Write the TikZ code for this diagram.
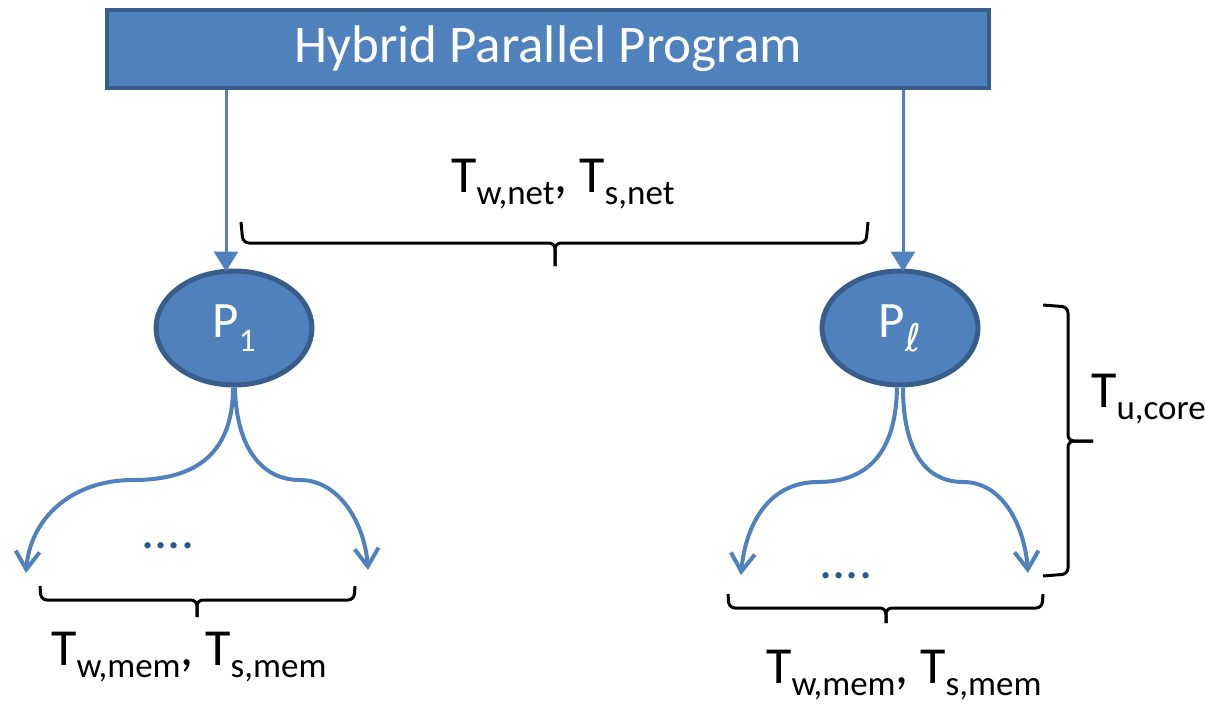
\documentclass[tikz,border=0pt]{standalone}
\usepackage{fontspec}
\setmainfont{Carlito}
\newfontfamily\dejavu{DejaVu Sans}
\usetikzlibrary{arrows.meta,shapes.geometric}
\definecolor{fillblue}{HTML}{4F81BD}
\definecolor{edgeblue}{HTML}{385D8A}
\definecolor{dotblue}{HTML}{2A5592}
\newcommand\sbx[1]{\raisebox{-12pt}{\fontsize{35}{38}\selectfont #1}}
\newcommand\psb[1]{\raisebox{-14pt}{\fontsize{33}{36}\selectfont #1}}
\begin{document}
\begin{tikzpicture}[x=1pt,y=-1pt,
  box/.style={rectangle,fill=fillblue,draw=edgeblue,line width=4pt,minimum width=882pt,minimum height=78pt,inner sep=0pt,text=white,font=\fontsize{53}{60}\selectfont},
  proc/.style={ellipse,fill=fillblue,draw=edgeblue,line width=5pt,minimum width=156pt,minimum height=114pt,inner sep=0pt,text=white,font=\fontsize{51}{56}\selectfont},
  lbl/.style={inner sep=0pt,anchor=base west,font=\fontsize{52}{58}\selectfont},
  dotsl/.style={inner sep=0pt,anchor=base,text=dotblue,font=\fontsize{52}{58}\selectfont},
  varr/.style={draw=fillblue,line width=3pt,-{Triangle[length=20pt,width=24pt]}},
  carr/.style={draw=fillblue,line width=4pt,-{Straight Barb[length=18pt,width=24pt]}},
  brace/.style={draw=black,line width=3pt,rounded corners=6pt}]
\useasboundingbox (0,0) rectangle (1205,704);
\node[box] (hpp) at (548,49) {Hybrid Parallel Program};
\node[proc] (p1) at (234,328) {P\psb{1}};
\node[proc] (p2) at (900,328) {P\psb{\dejavu\fontsize{38}{40}\selectfont ℓ}};
% vertical arrows
\draw[varr] ([xshift=-322pt]hpp.south) -- ([xshift=-8pt,yshift=-3pt]p1.north);
\draw[varr] ([xshift=355pt]hpp.south) -- ([xshift=3pt,yshift=-3pt]p2.north);
% curved arrows
\coordinate (e1) at (26,573);
\coordinate (e2) at (368,570);
\coordinate (e3) at (741,575);
\coordinate (e4) at (1028,573);
\draw[carr] ([xshift=-1pt]p1.south) .. controls (233,450) and (200,480) .. (133,480) .. controls (70,480) and (30,520) .. (e1);
\draw[carr] ([xshift=1pt]p1.south) .. controls (236,445) and (260,480) .. (300,480) .. controls (340,480) and (365,525) .. (e2);
\draw[carr] ([xshift=-3pt]p2.south) .. controls (896,450) and (870,482) .. (818,482) .. controls (765,482) and (745,530) .. (e3);
\draw[carr] ([xshift=3pt]p2.south) .. controls (903,450) and (925,482) .. (963,482) .. controls (1005,482) and (1025,530) .. (e4);
% dots
\node[dotsl] (d1) at (168,548) {....};
\node[dotsl] (d2) at (846,578) {....};
% braces
\draw[brace] (241,222) -- (243,243) -- (555,243) -- (555,266);
\draw[brace] (868,222) -- (866,243) -- (555,243) -- (555,266);
\draw[brace] (40,586) -- (41,600) -- (197,600) -- (197,617);
\draw[brace] (355,586) -- (354,600) -- (197,600) -- (197,617);
\draw[brace] (728,594) -- (729,608) -- (886,608) -- (886,623);
\draw[brace] (1043,594) -- (1042,608) -- (886,608) -- (886,623);
\draw[brace] (1043,305) -- (1068,307) -- (1068,441) -- (1093,441);
\draw[brace] (1043,576) -- (1068,574) -- (1068,441) -- (1093,441);
% labels
\node[lbl] (lnet) at (451,192) {T\sbx{w,net}, T\sbx{s,net}};
\node[lbl] (lmem1) at (51,665) {T\sbx{w,mem}, T\sbx{s,mem}};
\node[lbl] (lmem2) at (766,683) {T\sbx{w,mem}, T\sbx{s,mem}};
\node[lbl] (lcore) at (1091,407) {T\sbx{u,core}};
\end{tikzpicture}
\end{document}
